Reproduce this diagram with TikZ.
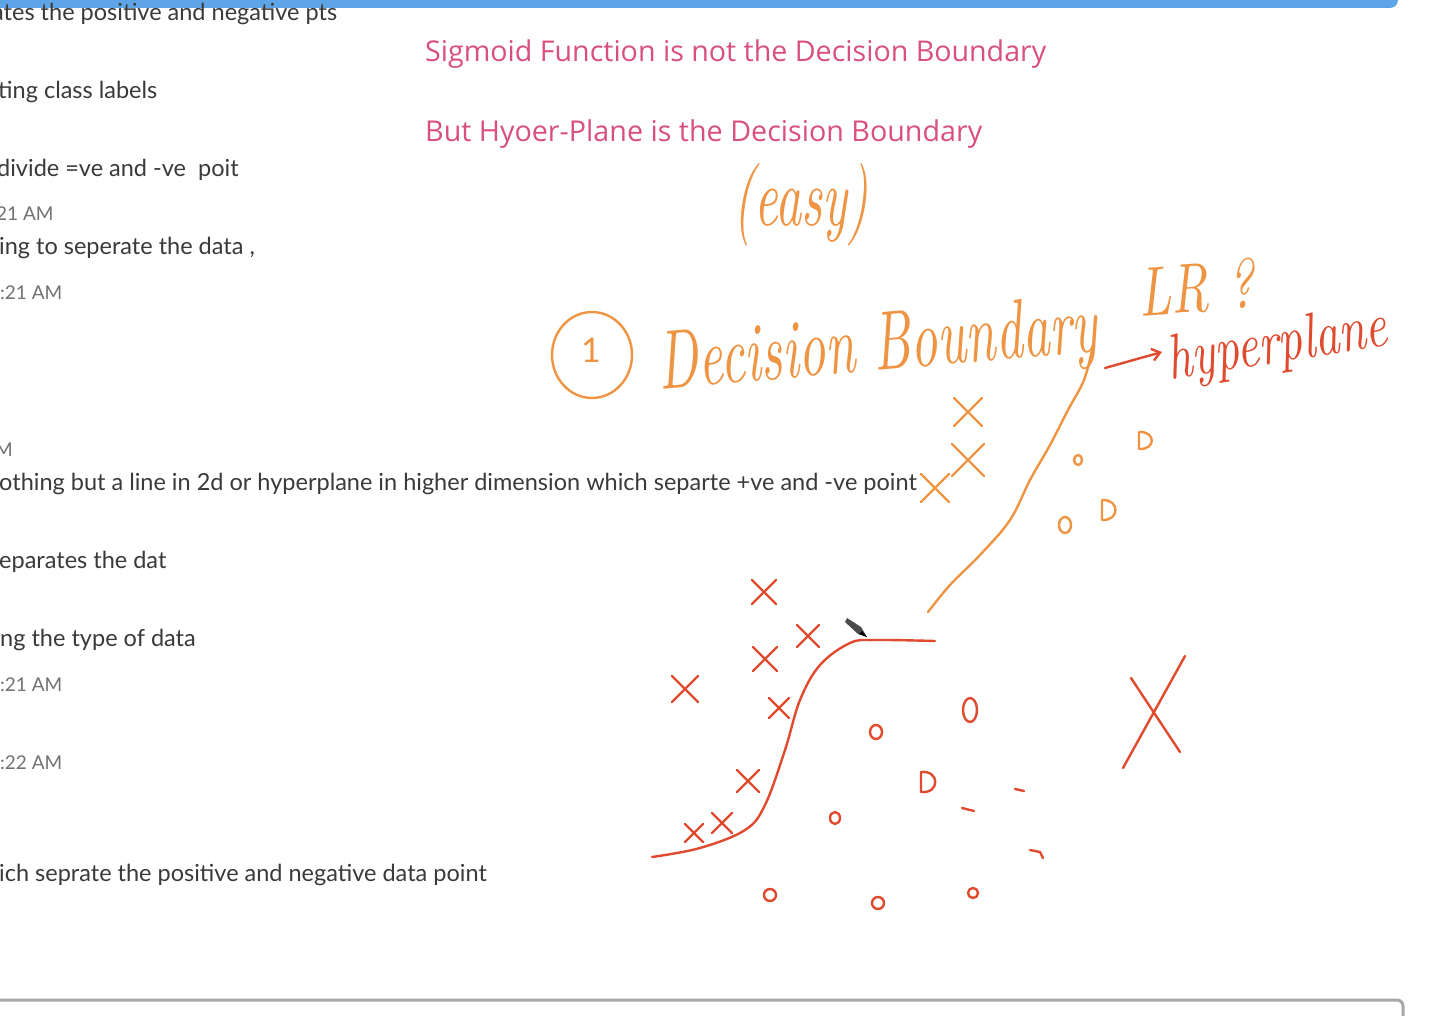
\documentclass[tikz,border=0pt]{standalone}
\usepackage{fontspec}
\newfontfamily\chatfont{Lato}
\newfontfamily\pinkfont{Open Sans}
\usetikzlibrary{arrows.meta}
\definecolor{chat}{HTML}{3A3A3A}
\definecolor{stamp}{HTML}{727272}
\definecolor{pinktxt}{HTML}{D94F7F}
\definecolor{hand}{HTML}{EE9443}
\definecolor{redhand}{HTML}{E04A2E}
\definecolor{bar}{HTML}{5EA5E8}
\definecolor{frame}{HTML}{A8A8A8}
\begin{document}
\begin{tikzpicture}[x=1pt,y=-1pt,
  chattext/.style={anchor=base west,inner sep=0pt,text=chat,font=\chatfont\fontsize{23.5}{27}\selectfont},
  stamptext/.style={anchor=base west,inner sep=0pt,text=stamp,font=\chatfont\fontsize{19}{22}\selectfont},
  pinktext/.style={anchor=base west,inner sep=0pt,text=pinktxt,font=\pinkfont},
  orangetext/.style={inner sep=0pt,text=hand,font=\itshape},
  redtext/.style={inner sep=0pt,text=redhand,font=\itshape},
  orangestroke/.style={draw=hand,line width=2.4pt,line cap=round,line join=round},
  redstroke/.style={draw=redhand,line width=2.4pt,line cap=round,line join=round},
  cross/.pic={\draw[pic actions] (-#1,-#1) -- (#1,#1) (#1,-#1) -- (-#1,#1);}
]
\useasboundingbox (0,0) rectangle (1440,1016);
\clip (0,0) rectangle (1440,1016);
\fill[white] (0,0) rectangle (1440,1016);

% top bar and bottom frame
\fill[bar,rounded corners=8pt] (-20,-20) rectangle (1398,8);
\draw[frame,line width=3pt,rounded corners=6pt] (-10,1000) -- (1403,1000) -- (1403,1030);

% chat texts
\node[chattext] (c1) at (-8,21) {ates the positive and negative pts};
\node[chattext] (c2) at (-2,99) {ting class labels};
\node[chattext] (c3) at (-3,177) {divide =ve and -ve\ \ poit};
\node[stamptext] (s1) at (-4,221) {21 AM};
\node[chattext] (c4) at (-1,255) {ing to seperate the data ,};
\node[stamptext] (s2) at (0,300) {:21 AM};
\node[stamptext] (s3) at (-5,456) {M};
\node[chattext] (c5) at (-1,490) {othing but a line in 2d or hyperplane in higher dimension which separte +ve and -ve point};
\node[chattext] (c6) at (-1,568) {eparates the dat};
\node[chattext] (c7) at (0,646) {ng the type of data};
\node[stamptext] (s4) at (0,691) {:21 AM};
\node[stamptext] (s5) at (0,769) {:22 AM};
\node[chattext] (c8) at (-1,881) {ich seprate the positive and negative data point};

% pink typed notes
\node[pinktext] (p1) at (425,62) {\resizebox{621pt}{!}{Sigmoid Function is not the Decision Boundary}};
\node[pinktext] (p2) at (425,142) {\resizebox{557pt}{!}{But Hyoer-Plane is the Decision Boundary}};

% orange handwriting
\node[orangetext] (easy) at (801,205) {\resizebox{135pt}{62pt}{(easy)}};
\draw[orangestroke] (592,355) ellipse [x radius=40, y radius=43];
\node[text=hand,inner sep=0pt,font=\chatfont\fontsize{34}{34}\selectfont] (one) at (591,350) {1};
\node[orangetext,rotate=5,anchor=base] (db) at (880,370) {\resizebox{440pt}{58pt}{Decision Boundary}};
\node[orangetext,rotate=4,anchor=base] (lr) at (1198,312) {\resizebox{115pt}{50pt}{LR ?}};

% red hyperplane label
\draw[redstroke,-{Straight Barb[length=8pt,width=12pt]}] (1105,368) -- (1162,352);
\node[redtext,rotate=9,anchor=base] (hp) at (1280,362) {\resizebox{222pt}{44pt}{hyperplane}};

% orange hyperplane line
\draw[orangestroke] plot[smooth,tension=0.6] coordinates {(1092,350) (1084,380) (1068,410) (1050,445) (1030,480) (1010,520) (980,555) (950,585) (928,612)};

% orange points
\pic[orangestroke] at (968,412) {cross=14};
\pic[orangestroke] at (968,460) {cross=16};
\pic[orangestroke] at (935,488) {cross=14};
\draw[orangestroke] (1078,460) ellipse [x radius=4, y radius=5];
\draw[orangestroke] (1139,432) -- (1139,449) (1139,432) .. controls (1156,431) and (1156,450) .. (1139,449);
\draw[orangestroke] (1065,525) ellipse [x radius=6, y radius=8];
\draw[orangestroke] (1102,500) -- (1102,520) (1102,500) .. controls (1120,499) and (1120,521) .. (1102,520);

% red sigmoid curve
\draw[redstroke] plot[smooth,tension=0.6] coordinates {(652,857) (700,848) (745,830) (765,805) (785,750) (800,700) (820,665) (850,643) (875,640) (935,641)};

% red crosses
\pic[redstroke] at (764,592) {cross=12};
\pic[redstroke] at (808,636) {cross=11};
\pic[redstroke] at (765,659) {cross=12};
\pic[redstroke] at (685,689) {cross=13};
\pic[redstroke] at (779,708) {cross=10};
\pic[redstroke] at (748,781) {cross=11};
\pic[redstroke] at (722,823) {cross=10};
\pic[redstroke] at (694,833) {cross=9};
\draw[redstroke] (1131,678) -- (1180,752) (1185,656) -- (1123,768);

% red circles
\draw[redstroke] (876,732) ellipse [x radius=6, y radius=7];
\draw[redstroke] (970,710) ellipse [x radius=7, y radius=12];
\draw[redstroke] (921,772) -- (921,792) (921,772) .. controls (940,770) and (940,794) .. (921,792);
\draw[redstroke] (835,818) ellipse [x radius=5, y radius=6];
\draw[redstroke] (962,808) -- (974,811);
\draw[redstroke] (1015,789) -- (1024,791);
\draw[redstroke] (1030,850) -- (1040,852) -- (1043,858);
\draw[redstroke] (770,895) ellipse [x radius=6, y radius=6];
\draw[redstroke] (878,903) ellipse [x radius=6, y radius=6];
\draw[redstroke] (973,893) ellipse [x radius=5, y radius=5];

% pen cursor
\fill[gray!60!black] (847,618) -- (861,627) -- (867,637) -- (858,634) -- (845,622) -- cycle;
\fill[black] (867,637) -- (862,631) -- (859,634) -- cycle;
\end{tikzpicture}
\end{document}
